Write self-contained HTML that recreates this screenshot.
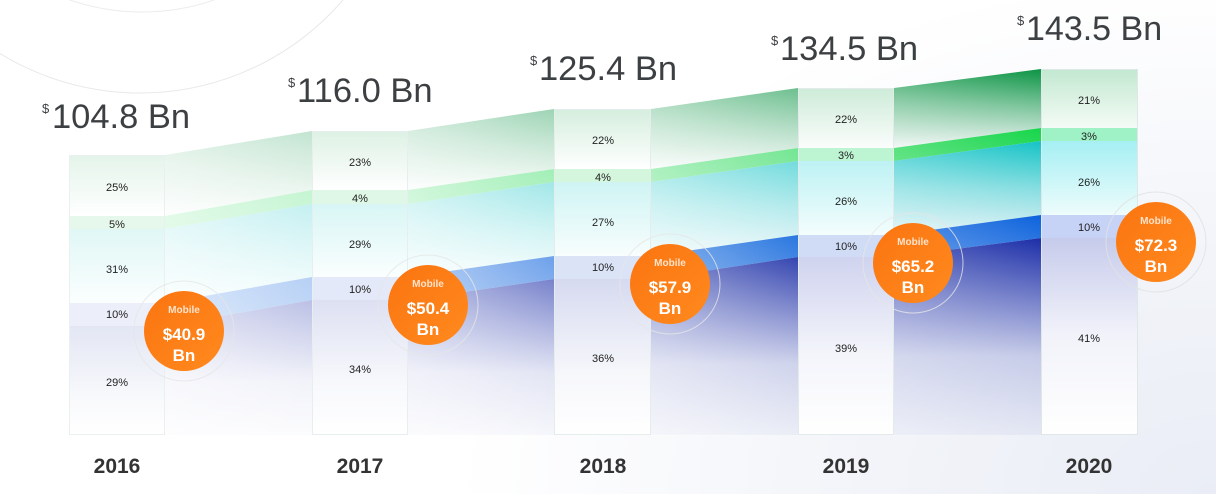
<!DOCTYPE html>
<html><head><meta charset="utf-8">
<style>
html,body{margin:0;padding:0;}
body{width:1216px;height:494px;overflow:hidden;background:radial-gradient(ellipse 760px 520px at 1216px 494px,#eaedf6 0%,#f2f4f9 45%,#ffffff 100%);font-family:"Liberation Sans",sans-serif;}
svg{display:block;}
</style></head>
<body>
<svg width="1216" height="494" viewBox="0 0 1216 494" xmlns="http://www.w3.org/2000/svg">
<defs>
<linearGradient id="hw" x1="0" y1="0" x2="1" y2="0"><stop offset="0" stop-color="#fff" stop-opacity="0.45"/><stop offset="1" stop-color="#fff" stop-opacity="0"/></linearGradient>
<linearGradient id="org" x1="0" y1="0" x2="1" y2="1"><stop offset="0" stop-color="#fb7410"/><stop offset="1" stop-color="#ff8a1e"/></linearGradient>
<!-- connector gradients -->
<linearGradient id="c0G" x1="0" y1="0" x2="0" y2="1"><stop offset="0" stop-color="#c2e4d0"/><stop offset="0.45" stop-color="#c2e4d0" stop-opacity="0.55"/><stop offset="1" stop-color="#c2e4d0" stop-opacity="0.05"/></linearGradient>
<linearGradient id="c0L" x1="0" y1="0" x2="0" y2="1"><stop offset="0" stop-color="#c5f5d2"/><stop offset="1" stop-color="#c5f5d2" stop-opacity="0.85"/></linearGradient>
<linearGradient id="c0C" x1="0" y1="0" x2="0" y2="1"><stop offset="0" stop-color="#c4f0f1"/><stop offset="0.5" stop-color="#c4f0f1" stop-opacity="0.5"/><stop offset="1" stop-color="#c4f0f1" stop-opacity="0.1"/></linearGradient>
<linearGradient id="c0B" x1="0" y1="0" x2="0" y2="1"><stop offset="0" stop-color="#b6d0f5"/><stop offset="1" stop-color="#b6d0f5" stop-opacity="0.8"/></linearGradient>
<linearGradient id="c0N" x1="0" y1="0" x2="0" y2="1"><stop offset="0" stop-color="#bbc0e5"/><stop offset="0.3" stop-color="#bbc0e5" stop-opacity="0.6"/><stop offset="0.6" stop-color="#bbc0e5" stop-opacity="0.2"/><stop offset="1" stop-color="#bbc0e5" stop-opacity="0.05"/></linearGradient>

<linearGradient id="c1G" x1="0" y1="0" x2="0" y2="1"><stop offset="0" stop-color="#9dd4b4"/><stop offset="0.45" stop-color="#9dd4b4" stop-opacity="0.55"/><stop offset="1" stop-color="#9dd4b4" stop-opacity="0.05"/></linearGradient>
<linearGradient id="c1L" x1="0" y1="0" x2="0" y2="1"><stop offset="0" stop-color="#a2efb7"/><stop offset="1" stop-color="#a2efb7" stop-opacity="0.85"/></linearGradient>
<linearGradient id="c1C" x1="0" y1="0" x2="0" y2="1"><stop offset="0" stop-color="#a1e7e8"/><stop offset="0.5" stop-color="#a1e7e8" stop-opacity="0.5"/><stop offset="1" stop-color="#a1e7e8" stop-opacity="0.1"/></linearGradient>
<linearGradient id="c1B" x1="0" y1="0" x2="0" y2="1"><stop offset="0" stop-color="#6ea1eb"/><stop offset="1" stop-color="#6ea1eb" stop-opacity="0.8"/></linearGradient>
<linearGradient id="c1N" x1="0" y1="0" x2="0" y2="1"><stop offset="0" stop-color="#7782cb"/><stop offset="0.3" stop-color="#7782cb" stop-opacity="0.6"/><stop offset="0.6" stop-color="#7782cb" stop-opacity="0.2"/><stop offset="1" stop-color="#7782cb" stop-opacity="0.05"/></linearGradient>

<linearGradient id="c2G" x1="0" y1="0" x2="0" y2="1"><stop offset="0" stop-color="#6dbf8f"/><stop offset="0.45" stop-color="#6dbf8f" stop-opacity="0.55"/><stop offset="1" stop-color="#6dbf8f" stop-opacity="0.05"/></linearGradient>
<linearGradient id="c2L" x1="0" y1="0" x2="0" y2="1"><stop offset="0" stop-color="#73e692"/><stop offset="1" stop-color="#73e692" stop-opacity="0.85"/></linearGradient>
<linearGradient id="c2C" x1="0" y1="0" x2="0" y2="1"><stop offset="0" stop-color="#72dbdd"/><stop offset="0.5" stop-color="#72dbdd" stop-opacity="0.5"/><stop offset="1" stop-color="#72dbdd" stop-opacity="0.1"/></linearGradient>
<linearGradient id="c2B" x1="0" y1="0" x2="0" y2="1"><stop offset="0" stop-color="#2a77e0"/><stop offset="1" stop-color="#2a77e0" stop-opacity="0.8"/></linearGradient>
<linearGradient id="c2N" x1="0" y1="0" x2="0" y2="1"><stop offset="0" stop-color="#3545b0"/><stop offset="0.3" stop-color="#3545b0" stop-opacity="0.6"/><stop offset="0.6" stop-color="#3545b0" stop-opacity="0.2"/><stop offset="1" stop-color="#3545b0" stop-opacity="0.05"/></linearGradient>

<linearGradient id="c3G" x1="0" y1="0" x2="0" y2="1"><stop offset="0" stop-color="#0b9444"/><stop offset="0.45" stop-color="#0b9444" stop-opacity="0.55"/><stop offset="1" stop-color="#0b9444" stop-opacity="0.05"/></linearGradient>
<linearGradient id="c3L" x1="0" y1="0" x2="0" y2="1"><stop offset="0" stop-color="#16d64a"/><stop offset="1" stop-color="#16d64a" stop-opacity="0.85"/></linearGradient>
<linearGradient id="c3C" x1="0" y1="0" x2="0" y2="1"><stop offset="0" stop-color="#14c3c6"/><stop offset="0.5" stop-color="#14c3c6" stop-opacity="0.5"/><stop offset="1" stop-color="#14c3c6" stop-opacity="0.1"/></linearGradient>
<linearGradient id="c3B" x1="0" y1="0" x2="0" y2="1"><stop offset="0" stop-color="#0d63dd"/><stop offset="1" stop-color="#0d63dd" stop-opacity="0.8"/></linearGradient>
<linearGradient id="c3N" x1="0" y1="0" x2="0" y2="1"><stop offset="0" stop-color="#1c2ea8"/><stop offset="0.3" stop-color="#1c2ea8" stop-opacity="0.6"/><stop offset="0.6" stop-color="#1c2ea8" stop-opacity="0.2"/><stop offset="1" stop-color="#1c2ea8" stop-opacity="0.05"/></linearGradient>

<!-- bar gradients -->
<linearGradient id="b0G" x1="0" y1="0" x2="0" y2="1"><stop offset="0" stop-color="#e4f4ea"/><stop offset="1" stop-color="#ffffff"/></linearGradient>
<linearGradient id="b0C" x1="0" y1="0" x2="0" y2="1"><stop offset="0" stop-color="#e0f7f6"/><stop offset="1" stop-color="#fbfefe"/></linearGradient>
<linearGradient id="b0N" x1="0" y1="0" x2="0" y2="1"><stop offset="0" stop-color="#e3e6f4"/><stop offset="0.65" stop-color="#f8f9fc"/><stop offset="1" stop-color="#ffffff"/></linearGradient>
<linearGradient id="b1G" x1="0" y1="0" x2="0" y2="1"><stop offset="0" stop-color="#ddf1e4"/><stop offset="1" stop-color="#ffffff"/></linearGradient>
<linearGradient id="b1C" x1="0" y1="0" x2="0" y2="1"><stop offset="0" stop-color="#d8f6f5"/><stop offset="1" stop-color="#fafefe"/></linearGradient>
<linearGradient id="b1N" x1="0" y1="0" x2="0" y2="1"><stop offset="0" stop-color="#dde0f2"/><stop offset="0.6" stop-color="#f7f8fc"/><stop offset="1" stop-color="#ffffff"/></linearGradient>
<linearGradient id="b2G" x1="0" y1="0" x2="0" y2="1"><stop offset="0" stop-color="#d5eedd"/><stop offset="1" stop-color="#ffffff"/></linearGradient>
<linearGradient id="b2C" x1="0" y1="0" x2="0" y2="1"><stop offset="0" stop-color="#cff4f4"/><stop offset="1" stop-color="#f8fdfd"/></linearGradient>
<linearGradient id="b2N" x1="0" y1="0" x2="0" y2="1"><stop offset="0" stop-color="#d6daf0"/><stop offset="0.6" stop-color="#f6f7fb"/><stop offset="1" stop-color="#ffffff"/></linearGradient>
<linearGradient id="b3G" x1="0" y1="0" x2="0" y2="1"><stop offset="0" stop-color="#cdebd8"/><stop offset="1" stop-color="#fbfdfc"/></linearGradient>
<linearGradient id="b3C" x1="0" y1="0" x2="0" y2="1"><stop offset="0" stop-color="#bdf2f4"/><stop offset="1" stop-color="#f4fdfd"/></linearGradient>
<linearGradient id="b3N" x1="0" y1="0" x2="0" y2="1"><stop offset="0" stop-color="#cfd3ee"/><stop offset="0.55" stop-color="#f4f5fb"/><stop offset="1" stop-color="#ffffff"/></linearGradient>
<linearGradient id="b4G" x1="0" y1="0" x2="0" y2="1"><stop offset="0" stop-color="#c2e8d0"/><stop offset="1" stop-color="#f4fbf6"/></linearGradient>
<linearGradient id="b4C" x1="0" y1="0" x2="0" y2="1"><stop offset="0" stop-color="#a5eff3"/><stop offset="1" stop-color="#eefcfc"/></linearGradient>
<linearGradient id="b4N" x1="0" y1="0" x2="0" y2="1"><stop offset="0" stop-color="#c6cbeb"/><stop offset="0.5" stop-color="#f2f3fa"/><stop offset="1" stop-color="#ffffff"/></linearGradient>
</defs>

<!-- background circles -->
<circle cx="140" cy="-175" r="268" fill="none" stroke="#e8e8e8" stroke-width="1"/>
<circle cx="142" cy="-210" r="222" fill="none" stroke="#ececec" stroke-width="1"/>

<!-- connector 0 -->
<polygon points="165,155 312,131 312,190 165,216" fill="url(#c0G)"/>
<polygon points="165,216 312,190 312,204 165,229" fill="url(#c0L)"/>
<polygon points="165,229 312,204 312,277 165,303" fill="url(#c0C)"/>
<polygon points="165,303 312,277 312,300 165,326" fill="url(#c0B)"/>
<polygon points="165,326 312,300 312,435 165,435" fill="url(#c0N)"/>
<rect x="165" y="130" width="147" height="306" fill="url(#hw)"/>
<!-- connector 1 -->
<polygon points="408,131 554,109 554,169 408,190" fill="url(#c1G)"/>
<polygon points="408,190 554,169 554,182 408,204" fill="url(#c1L)"/>
<polygon points="408,204 554,182 554,256 408,277" fill="url(#c1C)"/>
<polygon points="408,277 554,256 554,279 408,300" fill="url(#c1B)"/>
<polygon points="408,300 554,279 554,435 408,435" fill="url(#c1N)"/>
<rect x="408" y="108" width="146" height="328" fill="url(#hw)"/>
<!-- connector 2 -->
<polygon points="651,109 798,88 798,148 651,169" fill="url(#c2G)"/>
<polygon points="651,169 798,148 798,161 651,182" fill="url(#c2L)"/>
<polygon points="651,182 798,161 798,235 651,256" fill="url(#c2C)"/>
<polygon points="651,256 798,235 798,257 651,279" fill="url(#c2B)"/>
<polygon points="651,279 798,257 798,435 651,435" fill="url(#c2N)"/>
<rect x="651" y="87" width="147" height="349" fill="url(#hw)" opacity="0.8"/>
<!-- connector 3 -->
<polygon points="894,88 1041,69 1041,128 894,148" fill="url(#c3G)"/>
<polygon points="894,148 1041,128 1041,141 894,161" fill="url(#c3L)"/>
<polygon points="894,161 1041,141 1041,215 894,235" fill="url(#c3C)"/>
<polygon points="894,235 1041,215 1041,238 894,257" fill="url(#c3B)"/>
<polygon points="894,257 1041,238 1041,435 894,435" fill="url(#c3N)"/>
<rect x="894" y="68" width="147" height="368" fill="url(#hw)" opacity="0.5"/>

<!-- bars -->
<g>
<rect x="69" y="155" width="96" height="61" fill="url(#b0G)"/>
<rect x="69" y="216" width="96" height="13" fill="#e6f8ec"/>
<rect x="69" y="229" width="96" height="74" fill="url(#b0C)"/>
<rect x="69" y="303" width="96" height="23" fill="#eceff9"/>
<rect x="69" y="326" width="96" height="109" fill="url(#b0N)"/>
<rect x="69.5" y="155.5" width="95" height="279" fill="none" stroke="#eaf0f0" stroke-width="1"/>
</g>
<g>
<rect x="312" y="131" width="96" height="59" fill="url(#b1G)"/>
<rect x="312" y="190" width="96" height="14" fill="#dff7e6"/>
<rect x="312" y="204" width="96" height="73" fill="url(#b1C)"/>
<rect x="312" y="277" width="96" height="23" fill="#e3e9f8"/>
<rect x="312" y="300" width="96" height="135" fill="url(#b1N)"/>
<rect x="312.5" y="131.5" width="95" height="303" fill="none" stroke="#e6eeee" stroke-width="1"/>
</g>
<g>
<rect x="554" y="109" width="97" height="60" fill="url(#b2G)"/>
<rect x="554" y="169" width="97" height="13" fill="#d3f6dd"/>
<rect x="554" y="182" width="97" height="74" fill="url(#b2C)"/>
<rect x="554" y="256" width="97" height="23" fill="#dbe3f7"/>
<rect x="554" y="279" width="97" height="156" fill="url(#b2N)"/>
<rect x="554.5" y="109.5" width="96" height="325" fill="none" stroke="#e4ecec" stroke-width="1"/>
</g>
<g>
<rect x="798" y="88" width="96" height="60" fill="url(#b3G)"/>
<rect x="798" y="148" width="96" height="13" fill="#bdf4d2"/>
<rect x="798" y="161" width="96" height="74" fill="url(#b3C)"/>
<rect x="798" y="235" width="96" height="22" fill="#d0dcf6"/>
<rect x="798" y="257" width="96" height="178" fill="url(#b3N)"/>
<rect x="798.5" y="88.5" width="95" height="346" fill="none" stroke="#e2eaea" stroke-width="1"/>
</g>
<g>
<rect x="1041" y="69" width="97" height="59" fill="url(#b4G)"/>
<rect x="1041" y="128" width="97" height="13" fill="#9ef2c6"/>
<rect x="1041" y="141" width="97" height="74" fill="url(#b4C)"/>
<rect x="1041" y="215" width="97" height="23" fill="#c6d3f6"/>
<rect x="1041" y="238" width="97" height="197" fill="url(#b4N)"/>
<rect x="1041.5" y="69.5" width="96" height="365" fill="none" stroke="#dfe7e8" stroke-width="1"/>
</g>

<!-- percent labels -->
<g font-family="Liberation Sans, sans-serif" font-size="11" fill="#222" text-anchor="middle">
<text x="117" y="191">25%</text><text x="117" y="228">5%</text><text x="117" y="273">31%</text><text x="117" y="318">10%</text><text x="117" y="386">29%</text>
<text x="360" y="166">23%</text><text x="360" y="202">4%</text><text x="360" y="248">29%</text><text x="360" y="293">10%</text><text x="360" y="373">34%</text>
<text x="603" y="144">22%</text><text x="603" y="181">4%</text><text x="603" y="226">27%</text><text x="603" y="271">10%</text><text x="603" y="362">36%</text>
<text x="846" y="123">22%</text><text x="846" y="159">3%</text><text x="846" y="205">26%</text><text x="846" y="250">10%</text><text x="846" y="352">39%</text>
<text x="1089" y="104">21%</text><text x="1089" y="140">3%</text><text x="1089" y="186">26%</text><text x="1089" y="231">10%</text><text x="1089" y="342">41%</text>
</g>

<!-- titles -->
<g font-family="Liberation Sans, sans-serif" fill="#3d4043">
<text x="42" y="113" font-size="13">$</text><text x="52" y="128" font-size="34.5">104.8 Bn</text>
<text x="288" y="87" font-size="13">$</text><text x="297" y="102" font-size="34.5">116.0 Bn</text>
<text x="530" y="65" font-size="13">$</text><text x="539" y="80" font-size="34.5">125.4 Bn</text>
<text x="771" y="45" font-size="13">$</text><text x="780" y="60" font-size="34.5">134.5 Bn</text>
<text x="1017" y="25" font-size="13">$</text><text x="1026" y="40" font-size="34">143.5 Bn</text>
</g>

<!-- years -->
<g font-family="Liberation Sans, sans-serif" font-weight="bold" font-size="21" fill="#333" text-anchor="middle">
<text x="117" y="473">2016</text>
<text x="360" y="473">2017</text>
<text x="603" y="473">2018</text>
<text x="846" y="473">2019</text>
<text x="1089" y="473">2020</text>
</g>

<!-- mobile circles -->
<g font-family="Liberation Sans, sans-serif" font-weight="bold" text-anchor="middle">
<circle cx="184" cy="331" r="50" fill="none" stroke="#e6e6e6" stroke-opacity="0.8"/>
<circle cx="184" cy="331" r="40" fill="url(#org)"/>
<text x="184" y="313" font-size="10" fill="#ffe3cc">Mobile</text>
<text x="184" y="340" font-size="17" fill="#fff">$40.9</text>
<text x="184" y="361" font-size="17" fill="#fff">Bn</text>

<circle cx="428" cy="305" r="50" fill="none" stroke="#e6e6e6" stroke-opacity="0.8"/>
<circle cx="428" cy="305" r="40" fill="url(#org)"/>
<text x="428" y="287" font-size="10" fill="#ffe3cc">Mobile</text>
<text x="428" y="314" font-size="17" fill="#fff">$50.4</text>
<text x="428" y="335" font-size="17" fill="#fff">Bn</text>

<circle cx="670" cy="284" r="50" fill="none" stroke="#e6e6e6" stroke-opacity="0.8"/>
<circle cx="670" cy="284" r="40" fill="url(#org)"/>
<text x="670" y="266" font-size="10" fill="#ffe3cc">Mobile</text>
<text x="670" y="293" font-size="17" fill="#fff">$57.9</text>
<text x="670" y="314" font-size="17" fill="#fff">Bn</text>

<circle cx="913" cy="263" r="50" fill="none" stroke="#e6e6e6" stroke-opacity="0.8"/>
<circle cx="913" cy="263" r="40" fill="url(#org)"/>
<text x="913" y="245" font-size="10" fill="#ffe3cc">Mobile</text>
<text x="913" y="272" font-size="17" fill="#fff">$65.2</text>
<text x="913" y="293" font-size="17" fill="#fff">Bn</text>

<circle cx="1156" cy="242" r="50" fill="none" stroke="#e2e2e2" stroke-opacity="0.9"/>
<circle cx="1156" cy="242" r="40" fill="url(#org)"/>
<text x="1156" y="224" font-size="10" fill="#ffe3cc">Mobile</text>
<text x="1156" y="251" font-size="17" fill="#fff">$72.3</text>
<text x="1156" y="272" font-size="17" fill="#fff">Bn</text>
</g>
</svg>
</body></html>
